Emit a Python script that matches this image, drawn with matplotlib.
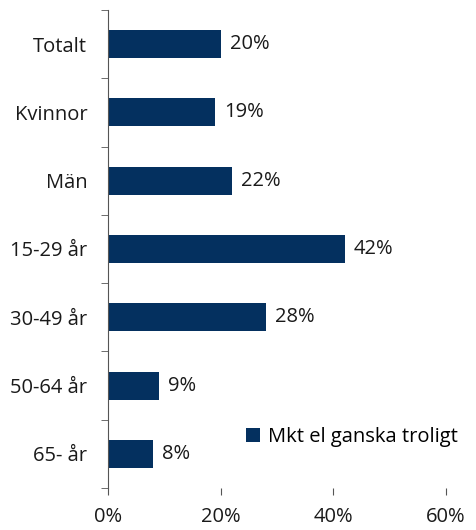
import matplotlib
matplotlib.use("Agg")
import matplotlib.pyplot as plt
import numpy as np

# data
categories = ["Totalt", "Kvinnor", "Män", "15-29 år", "30-49 år", "50-64 år", "65- år"]
values = [20, 19, 22, 42, 28, 9, 8]
series_name = "Mkt el ganska troligt"
xticks = [0, 20, 40, 60]

bar_color = "#04305f"
plt.rcParams['font.family'] = ['Open Sans', 'DejaVu Sans']

fig = plt.figure(figsize=(4.76, 5.3), dpi=100)
ax = fig.add_axes([0.227, 0.0792, 0.71, 0.902])

y = np.arange(len(categories))
bars = ax.barh(y, values, height=0.41, color=bar_color, label=series_name)
ax.set_ylim(len(categories) - 0.5, -0.5)
ax.set_xlim(0, 60)

for yi, v in zip(y, values):
    ax.text(v + 1.6, yi, f"{v}%", va="center", ha="left", fontsize=14.5, color="#1a1a1a")

ax.set_yticks(y)
ax.set_yticklabels(categories)
ax.set_yticks(np.arange(len(categories) + 1) - 0.5, minor=True)
ax.tick_params(axis="y", which="major", length=0, pad=15, labelsize=14.5, labelcolor="#1a1a1a")
ax.tick_params(axis="y", which="minor", length=5, direction="out", color="#555555")

ax.set_xticks(xticks)
ax.set_xticklabels([f"{t}%" for t in xticks])
ax.tick_params(axis="x", length=5, direction="out", pad=9, labelsize=14.5, color="#555555", labelcolor="#1a1a1a")

for s in ["top", "right", "bottom"]:
    ax.spines[s].set_visible(False)
ax.spines["left"].set_color("#555555")

ax.legend(loc="center right", bbox_to_anchor=(1.065, 0.107), frameon=False, fontsize=14.5,
          handlelength=0.7, handleheight=0.7, handletextpad=0.4, borderpad=0)

fig.savefig("out.png", dpi=100)
